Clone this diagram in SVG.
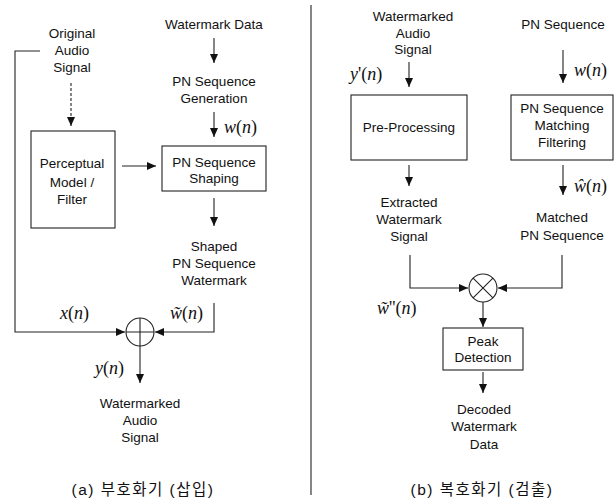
<svg xmlns="http://www.w3.org/2000/svg" width="615" height="500" viewBox="0 0 615 500">
<defs>
<marker id="ah" markerUnits="userSpaceOnUse" markerWidth="10" markerHeight="10" viewBox="0 0 10 10" refX="9" refY="5" orient="auto">
<path d="M0,1 L9,5 L0,9 Z" fill="#111"/>
</marker>
</defs>
<style>
.t{font-family:"Liberation Sans",Arial,sans-serif;font-size:13.5px;fill:#111;text-anchor:middle}
.m{font-family:"Liberation Serif","Times New Roman",serif;font-size:18px;fill:#111}
.mi{font-style:italic}
.box{fill:#fff;stroke:#222;stroke-width:1.1}
.ln{fill:none;stroke:#222;stroke-width:1.1}
.ar{fill:none;stroke:#222;stroke-width:1.1;marker-end:url(#ah)}
.dash{stroke-dasharray:3,2}
.cap{font-family:"Liberation Sans","Noto Sans CJK KR",sans-serif;font-size:15.5px;fill:#111;text-anchor:middle;letter-spacing:1.5px}
</style>
<rect width="615" height="500" fill="#fff"/>

<g id="connectors">
<path class="ar dash" d="M71,83 V126"/>
<path class="ar" d="M40,51 H15 V332 H125"/>
<path class="ar" d="M122,166 H156"/>
<path class="ar" d="M214,38 V63"/>
<path class="ar" d="M214,112 V137"/>
<path class="ar" d="M214,198 V226"/>
<path class="ar" d="M214,303 V332 H155"/>
<path class="ar" d="M140,346 V383"/>
<path class="ln" d="M311,5 V495" stroke-width="1.3"/>
<path class="ar" d="M409,62 V87"/>
<path class="ar" d="M409,165 V186"/>
<path class="ar" d="M410,255 V288 H468"/>
<path class="ar" d="M563,50 V83"/>
<path class="ar" d="M563,165 V195"/>
<path class="ar" d="M562,255 V288 H498"/>
<path class="ar" d="M483,302 V327"/>
<path class="ar" d="M483,372 V393"/>
</g>

<g id="original-audio">
<text class="t" x="72" y="38">Original</text>
<text class="t" x="72" y="55">Audio</text>
<text class="t" x="72" y="72">Signal</text>
</g>
<g id="perceptual-model">
<rect class="box" x="31" y="131" width="84" height="97"/>
<text class="t" x="72" y="168">Perceptual</text>
<text class="t" x="72" y="187">Model /</text>
<text class="t" x="72" y="204">Filter</text>
</g>
<g id="watermark-data">
<text class="t" x="214" y="29">Watermark Data</text>
</g>
<g id="pn-generation">
<text class="t" x="214" y="86">PN Sequence</text>
<text class="t" x="214" y="103">Generation</text>
</g>
<g id="pn-shaping">
<rect class="box" x="162" y="146" width="104" height="45"/>
<text class="t" x="214" y="167">PN Sequence</text>
<text class="t" x="214" y="183">Shaping</text>
</g>
<g id="shaped-pn">
<text class="t" x="214" y="251">Shaped</text>
<text class="t" x="214" y="268">PN Sequence</text>
<text class="t" x="214" y="285">Watermark</text>
</g>
<g id="adder">
<circle cx="140" cy="332" r="14" fill="#fff" stroke="#222" stroke-width="1.1"/>
<path class="ln" d="M126,332 H154 M140,318 V346"/>
</g>
<g id="watermarked-out">
<text class="t" x="140" y="408">Watermarked</text>
<text class="t" x="140" y="425">Audio</text>
<text class="t" x="140" y="442">Signal</text>
</g>
<g id="labels-left">
<text class="m" x="224" y="133"><tspan class="mi">w</tspan>(<tspan class="mi">n</tspan>)</text>
<text class="m" x="60" y="319"><tspan class="mi">x</tspan>(<tspan class="mi">n</tspan>)</text>
<text class="m" x="170" y="319"><tspan class="mi">w&#x303;</tspan>(<tspan class="mi">n</tspan>)</text>
<text class="m" x="95" y="374"><tspan class="mi">y</tspan>(<tspan class="mi">n</tspan>)</text>
<text class="cap" x="143" y="495">(a)  부호화기  (삽입)</text>
</g>

<g id="watermarked-in">
<text class="t" x="413" y="21">Watermarked</text>
<text class="t" x="413" y="38">Audio</text>
<text class="t" x="413" y="54">Signal</text>
</g>
<g id="pre-processing">
<rect class="box" x="351" y="95" width="116" height="65"/>
<text class="t" x="409" y="132">Pre-Processing</text>
</g>
<g id="extracted">
<text class="t" x="409" y="207">Extracted</text>
<text class="t" x="409" y="224">Watermark</text>
<text class="t" x="409" y="241">Signal</text>
</g>
<g id="pn-seq-in">
<text class="t" x="563" y="29">PN Sequence</text>
</g>
<g id="pn-matching">
<rect class="box" x="511" y="95" width="102" height="65"/>
<text class="t" x="562" y="113">PN Sequence</text>
<text class="t" x="562" y="130">Matching</text>
<text class="t" x="562" y="147">Filtering</text>
</g>
<g id="matched-pn">
<text class="t" x="562" y="222">Matched</text>
<text class="t" x="562" y="240">PN Sequence</text>
</g>
<g id="multiplier">
<circle cx="483" cy="288" r="14" fill="#fff" stroke="#222" stroke-width="1.1"/>
<path class="ln" d="M473.1,278.1 L492.9,297.9 M492.9,278.1 L473.1,297.9"/>
</g>
<g id="peak-detection">
<rect class="box" x="443" y="328" width="80" height="42"/>
<text class="t" x="483" y="346">Peak</text>
<text class="t" x="483" y="362">Detection</text>
</g>
<g id="decoded">
<text class="t" x="484" y="414">Decoded</text>
<text class="t" x="484" y="431">Watermark</text>
<text class="t" x="484" y="449">Data</text>
</g>
<g id="labels-right">
<text class="m" x="350" y="80"><tspan class="mi">y</tspan>'(<tspan class="mi">n</tspan>)</text>
<text class="m" x="574" y="76"><tspan class="mi">w</tspan>(<tspan class="mi">n</tspan>)</text>
<text class="m" x="574" y="192"><tspan class="mi">&#x175;</tspan>(<tspan class="mi">n</tspan>)</text>
<text class="m" x="377" y="314"><tspan class="mi">w&#x303;</tspan>''(<tspan class="mi">n</tspan>)</text>
<text class="cap" x="482" y="495">(b)  복호화기  (검출)</text>
</g>
</svg>
